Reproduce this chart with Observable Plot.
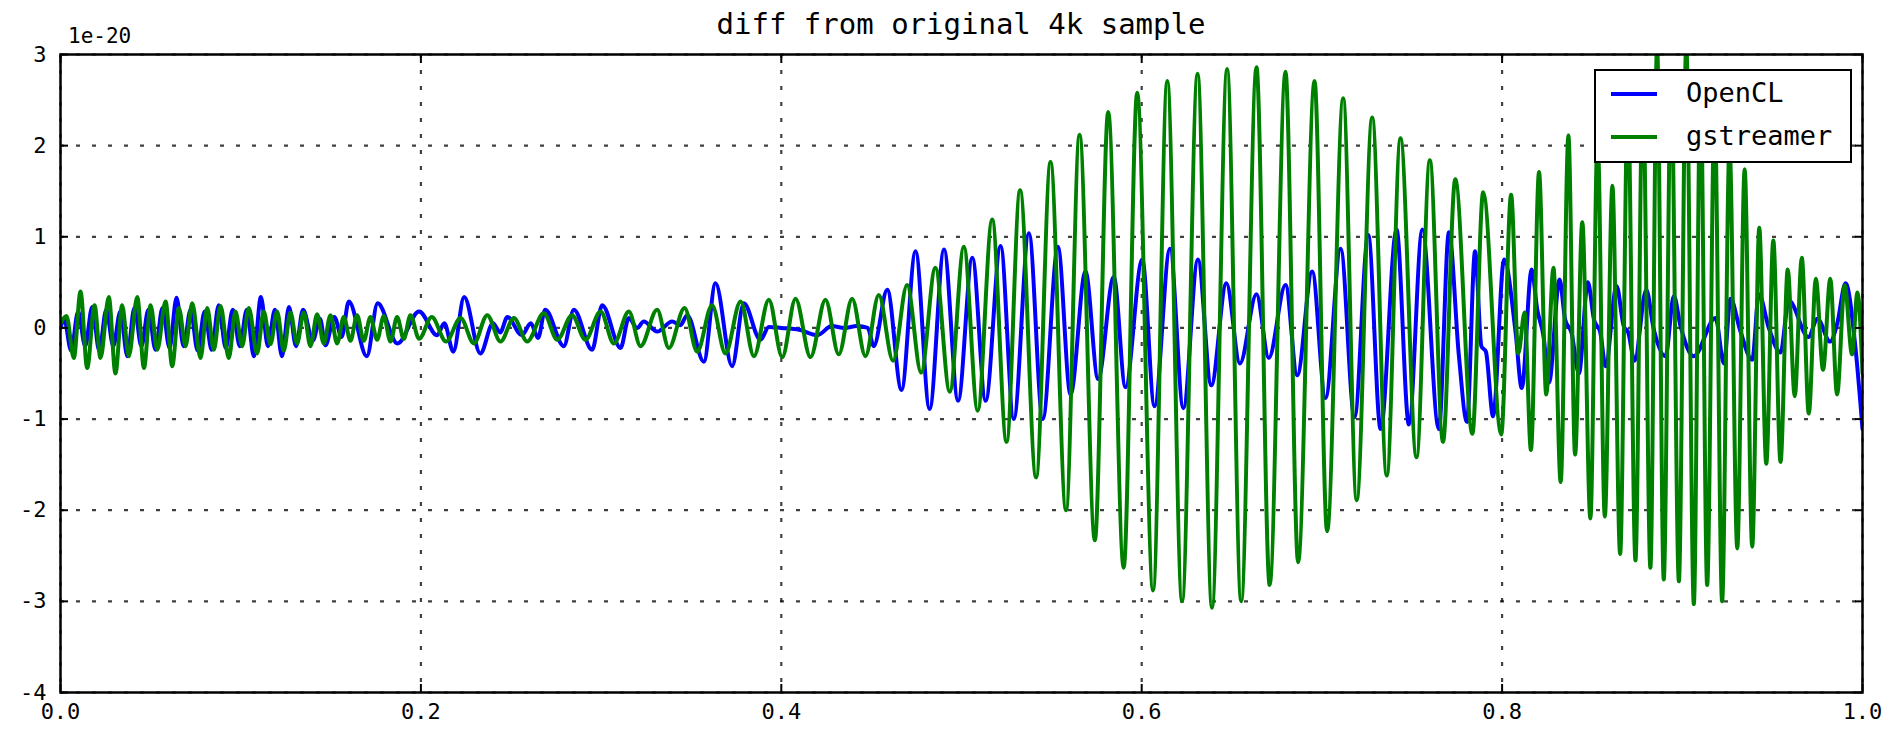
<!DOCTYPE html>
<html>
<head>
<meta charset="utf-8">
<script src="https://cdn.jsdelivr.net/npm/d3@7"></script>
<script src="https://cdn.jsdelivr.net/npm/@observablehq/plot@0.6"></script>
<style>
  html, body { margin: 0; padding: 0; background: #fff; }
  #wrap { position: relative; width: 1896px; height: 731px; font-family: "DejaVu Sans Mono", monospace; color: #000; }
  #head { position: relative; height: 40px; }
  #title { position: absolute; left: 60px; width: 1802px; top: 7px; text-align: center; font-size: 29px; line-height: 34px; white-space: pre; }
  #expo { position: absolute; left: 68px; top: 25px; font-size: 21px; line-height: 22px; }
  #legend { position: absolute; left: 1594px; top: 69px; width: 254px; height: 90px; border: 2.5px solid #000; background: #fff; }
  .lg-line { position: absolute; left: 15px; width: 46px; height: 4px; }
  .lg-text { position: absolute; left: 90px; font-size: 27px; line-height: 30px; white-space: pre; }
</style>
</head>
<body>
<div id="wrap">
  <div id="head"><div id="title"></div><div id="expo"></div></div>
  <div id="chart"></div>
  <div id="legend"></div>
</div>
<script>
const titleText = "diff from original 4k sample";
const exponentText = "1e-20";
const seriesNames = ["OpenCL", "gstreamer"];
const seriesColors = ["#0000ff", "#008000"];
const xTicks = [0, 0.2, 0.4, 0.6, 0.8, 1.0];
const yTicks = [-4, -3, -2, -1, 0, 1, 2, 3];

// OpenCL series: [x, value in units of 1e-20] (peaks/troughs)
const openclPts = [
  [0.0000, 0.00], [0.0020, 0.10], [0.0059, -0.25], [0.0098, 0.18], [0.0137, -0.20],
  [0.0176, 0.23], [0.0215, -0.25], [0.0254, 0.20], [0.0293, -0.20], [0.0332, 0.18],
  [0.0371, -0.31], [0.0410, 0.22], [0.0449, -0.20], [0.0488, 0.20], [0.0527, -0.24],
  [0.0566, 0.22], [0.0605, -0.22], [0.0644, 0.33], [0.0683, -0.20], [0.0722, 0.20],
  [0.0761, -0.25], [0.0800, 0.18], [0.0839, -0.24], [0.0878, 0.25], [0.0917, -0.22],
  [0.0956, 0.20], [0.0995, -0.20], [0.1034, 0.20], [0.1073, -0.31], [0.1112, 0.34],
  [0.1151, -0.20], [0.1190, 0.20], [0.1229, -0.31], [0.1268, 0.23], [0.1307, -0.20],
  [0.1346, 0.20], [0.1400, -0.14], [0.1440, 0.10], [0.1470, -0.19], [0.1520, 0.12],
  [0.1560, -0.10], [0.1600, 0.29], [0.1700, -0.31], [0.1760, 0.27], [0.1870, -0.17],
  [0.1990, 0.18], [0.2090, -0.08], [0.2130, 0.05], [0.2180, -0.26], [0.2240, 0.34],
  [0.2330, -0.28], [0.2400, 0.05], [0.2440, -0.05], [0.2480, 0.12], [0.2560, -0.08],
  [0.2610, 0.05], [0.2650, -0.11], [0.2690, 0.20], [0.2793, -0.20], [0.2849, 0.20],
  [0.2950, -0.24], [0.3006, 0.25], [0.3108, -0.22], [0.3154, 0.11], [0.3200, 0.00],
  [0.3237, 0.07], [0.3311, -0.04], [0.3394, 0.07], [0.3440, 0.03], [0.3478, 0.14],
  [0.3570, -0.37], [0.3635, 0.49], [0.3727, -0.42], [0.3792, 0.27], [0.3884, -0.13],
  [0.3931, 0.01], [0.4000, 0.00], [0.4100, -0.02], [0.4200, -0.08], [0.4280, 0.02],
  [0.4350, 0.00], [0.4420, 0.02], [0.4480, 0.00], [0.4513, -0.20], [0.4588, 0.42],
  [0.4667, -0.68], [0.4745, 0.84], [0.4823, -0.89], [0.4903, 0.86], [0.4981, -0.80],
  [0.5060, 0.77], [0.5134, -0.80], [0.5217, 0.90], [0.5290, -1.00], [0.5374, 1.04],
  [0.5451, -1.00], [0.5535, 0.89], [0.5605, -0.73], [0.5688, 0.62], [0.5758, -0.56],
  [0.5845, 0.56], [0.5910, -0.65], [0.6003, 0.75], [0.6071, -0.86], [0.6157, 0.87],
  [0.6231, -0.88], [0.6312, 0.75], [0.6386, -0.63], [0.6470, 0.49], [0.6545, -0.39],
  [0.6637, 0.37], [0.6705, -0.33], [0.6798, 0.47], [0.6863, -0.52], [0.6946, 0.62],
  [0.7020, -0.77], [0.7104, 0.87], [0.7181, -0.98], [0.7257, 1.02], [0.7326, -1.11],
  [0.7414, 1.08], [0.7483, -1.06], [0.7557, 1.08], [0.7649, -1.11], [0.7705, 1.05],
  [0.7760, -0.30], [0.7805, -1.03], [0.7850, 0.84], [0.7885, -0.20], [0.7910, -0.26],
  [0.7950, -0.97], [0.8011, 0.75], [0.8075, -0.05], [0.8109, -0.66], [0.8164, 0.64],
  [0.8195, 0.20], [0.8230, -0.09], [0.8260, -0.60], [0.8319, 0.53], [0.8350, 0.09],
  [0.8385, -0.05], [0.8426, -0.50], [0.8476, 0.50], [0.8510, 0.09], [0.8545, -0.05],
  [0.8574, -0.42], [0.8635, 0.46], [0.8675, 0.02], [0.8700, -0.05], [0.8735, -0.36],
  [0.8800, 0.42], [0.8840, 0.00], [0.8907, -0.31], [0.8953, 0.35], [0.8990, 0.02],
  [0.9064, -0.31], [0.9184, 0.11], [0.9231, -0.39], [0.9268, 0.32], [0.9320, -0.02],
  [0.9388, -0.35], [0.9425, 0.37], [0.9480, 0.00], [0.9545, -0.27], [0.9591, 0.30],
  [0.9700, -0.10], [0.9750, 0.10], [0.9820, -0.15], [0.9860, 0.05], [0.9906, 0.49],
  [0.9960, -0.20], [1.0000, -1.11]
];

// gstreamer series: [x, value in units of 1e-20]
const gstreamerPts = [
  [0.0000, 0.05], [0.0033, 0.13], [0.0074, -0.33], [0.0111, 0.40], [0.0148, -0.44],
  [0.0189, 0.25], [0.0222, -0.33], [0.0268, 0.34], [0.0305, -0.50], [0.0342, 0.25],
  [0.0379, -0.31], [0.0426, 0.34], [0.0463, -0.44], [0.0500, 0.25], [0.0537, -0.24],
  [0.0583, 0.29], [0.0620, -0.42], [0.0657, 0.22], [0.0694, -0.20], [0.0731, 0.27],
  [0.0777, -0.33], [0.0814, 0.22], [0.0851, -0.24], [0.0888, 0.24], [0.0934, -0.33],
  [0.0971, 0.18], [0.1008, -0.20], [0.1045, 0.22], [0.1091, -0.28], [0.1128, 0.18],
  [0.1165, -0.18], [0.1202, 0.18], [0.1239, -0.25], [0.1276, 0.17], [0.1313, -0.17],
  [0.1350, 0.17], [0.1387, -0.20], [0.1424, 0.15], [0.1461, -0.17], [0.1498, 0.14],
  [0.1535, -0.17], [0.1572, 0.12], [0.1609, -0.14], [0.1646, 0.14], [0.1683, -0.14],
  [0.1720, 0.12], [0.1757, -0.13], [0.1794, 0.13], [0.1831, -0.15], [0.1868, 0.12],
  [0.1905, -0.12], [0.1942, 0.14], [0.1990, -0.12], [0.2060, 0.12], [0.2140, -0.15],
  [0.2220, 0.11], [0.2294, -0.17], [0.2368, 0.14], [0.2442, -0.15], [0.2516, 0.11],
  [0.2590, -0.15], [0.2682, 0.16], [0.2757, -0.13], [0.2839, 0.14], [0.2913, -0.13],
  [0.2997, 0.18], [0.3071, -0.17], [0.3154, 0.18], [0.3219, -0.20], [0.3311, 0.20],
  [0.3376, -0.22], [0.3463, 0.22], [0.3533, -0.26], [0.3616, 0.25], [0.3690, -0.28],
  [0.3774, 0.29], [0.3848, -0.31], [0.3931, 0.31], [0.4005, -0.32], [0.4079, 0.32],
  [0.4162, -0.32], [0.4245, 0.31], [0.4319, -0.29], [0.4393, 0.32], [0.4467, -0.31],
  [0.4541, 0.36], [0.4620, -0.36], [0.4698, 0.47], [0.4776, -0.49], [0.4855, 0.66],
  [0.4935, -0.70], [0.5013, 0.89], [0.5090, -0.91], [0.5170, 1.19], [0.5250, -1.25],
  [0.5325, 1.51], [0.5414, -1.64], [0.5494, 1.82], [0.5580, -2.00], [0.5655, 2.12],
  [0.5740, -2.33], [0.5814, 2.37], [0.5900, -2.63], [0.5975, 2.58], [0.6063, -2.88],
  [0.6142, 2.71], [0.6224, -3.00], [0.6310, 2.79], [0.6390, -3.07], [0.6474, 2.84],
  [0.6552, -3.00], [0.6637, 2.86], [0.6710, -2.82], [0.6798, 2.81], [0.6868, -2.57],
  [0.6959, 2.71], [0.7029, -2.23], [0.7118, 2.52], [0.7193, -1.89], [0.7279, 2.31],
  [0.7360, -1.62], [0.7436, 2.08], [0.7525, -1.42], [0.7599, 1.84], [0.7672, -1.25],
  [0.7740, 1.63], [0.7835, -1.16], [0.7895, 1.49], [0.7995, -1.17], [0.8050, 1.46],
  [0.8090, -0.28], [0.8125, 0.17], [0.8160, -1.34], [0.8205, 1.71], [0.8245, -0.73],
  [0.8285, 0.66], [0.8325, -1.69], [0.8368, 2.11], [0.8405, -1.39], [0.8445, 1.16],
  [0.8490, -2.09], [0.8530, 2.10], [0.8570, -2.07], [0.8612, 1.56], [0.8655, -2.48],
  [0.8698, 2.50], [0.8740, -2.55], [0.8781, 2.70], [0.8823, -2.63], [0.8860, 3.10],
  [0.8897, -2.76], [0.8938, 2.80], [0.8981, -2.78], [0.9022, 3.10], [0.9064, -3.03],
  [0.9101, 2.70], [0.9138, -2.82], [0.9179, 2.40], [0.9221, -3.00], [0.9262, 2.00],
  [0.9305, -2.42], [0.9346, 1.74], [0.9388, -2.40], [0.9427, 1.10], [0.9466, -1.49],
  [0.9505, 0.96], [0.9545, -1.47], [0.9585, 0.64], [0.9624, -0.75], [0.9663, 0.77],
  [0.9702, -0.94], [0.9741, 0.54], [0.9781, -0.46], [0.9821, 0.54], [0.9859, -0.73],
  [0.9901, 0.47], [0.9942, -0.29], [0.9972, 0.39], [1.0000, -0.50]
];

const seriesPts = [openclPts, gstreamerPts];

document.getElementById("title").textContent = titleText;
document.getElementById("expo").textContent = exponentText;

const gridStyle = { stroke: "#000", strokeOpacity: 0.75, strokeWidth: 2.2, strokeDasharray: "4,12" };

const lineMarks = seriesPts.map((pts, i) =>
  Plot.line(pts, {
    x: d => d[0], y: d => d[1],
    stroke: seriesColors[i], strokeWidth: 4,
    curve: "monotone-x", clip: true
  })
);

const chart = Plot.plot({
  width: 1896,
  height: 691,
  marginLeft: 60,
  marginRight: 34,
  marginTop: 14,
  marginBottom: 39,
  x: { domain: [0, 1] },
  y: { domain: [-4, 3] },
  style: { fontFamily: "'DejaVu Sans Mono', monospace", fontSize: "22px", color: "#000", background: "#fff", overflow: "visible" },
  marks: [
    Plot.gridX(xTicks, gridStyle),
    Plot.gridY(yTicks, gridStyle),
    ...lineMarks,
    Plot.axisX(xTicks, { anchor: "bottom", tickSize: -8, strokeWidth: 2, tickFormat: () => "", label: null }),
    Plot.axisX(xTicks, { anchor: "top", tickSize: -8, strokeWidth: 2, tickFormat: () => "", label: null }),
    Plot.axisY(yTicks, { anchor: "left", tickSize: -8, strokeWidth: 2, tickFormat: () => "", label: null }),
    Plot.axisY(yTicks, { anchor: "right", tickSize: -8, strokeWidth: 2, tickFormat: () => "", label: null }),
    Plot.axisX(xTicks, { anchor: "bottom", tickSize: 0, tickPadding: 11, tickFormat: d => d.toFixed(1), label: null }),
    Plot.axisY(yTicks, { anchor: "left", tickSize: 0, tickPadding: 14, tickFormat: d => String(d), label: null }),
    Plot.frame({ stroke: "#000", strokeWidth: 2.5 })
  ]
});
document.getElementById("chart").appendChild(chart);

// legend
const legend = document.getElementById("legend");
seriesNames.forEach((name, i) => {
  const top = 23 + i * 43;
  const ln = document.createElement("div");
  ln.className = "lg-line";
  ln.style.top = (top - 2) + "px";
  ln.style.background = seriesColors[i];
  legend.appendChild(ln);
  const tx = document.createElement("div");
  tx.className = "lg-text";
  tx.style.top = (top - 16) + "px";
  tx.textContent = name;
  legend.appendChild(tx);
});
</script>
</body>
</html>
